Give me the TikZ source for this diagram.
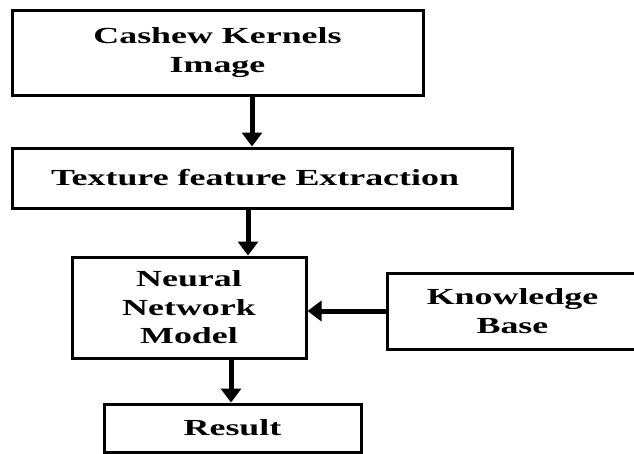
\documentclass[tikz,border=0pt]{standalone}
\usepackage{fontspec}
\setmainfont{Liberation Serif}[FakeStretch=1.56]
\usetikzlibrary{arrows.meta}
\begin{document}
\begin{tikzpicture}[x=1pt,y=-1pt,
  box/.style={draw=black, line width=3pt, fill=white, rectangle, inner sep=0pt,
    align=center, font=\fontsize{23}{28.5}\selectfont\bfseries},
  arr/.style={line width=5pt, -{Triangle[length=14pt,width=20pt]}}]
\useasboundingbox[fill=white] (0,0) rectangle (634,453);
\node[box, minimum width=411pt, minimum height=85pt] (b1) at (217.5,52.5) {Cashew Kernels\\Image};
\node[box, minimum width=500pt, minimum height=60pt] (b2) at (262,178) {\hspace*{-14pt}Texture feature Extraction};
\node[box, minimum width=234pt, minimum height=101pt] (nn) at (189,307.5) {Neural\\Network\\Model};
\node[box, minimum width=251pt, minimum height=76pt] (kb) at (512.5,311) {Knowledge\\Base};
\node[box, minimum width=257pt, minimum height=48pt] (res) at (232.5,428) {Result};
\coordinate (x1) at (252,0);
\coordinate (x2) at (248,0);
\coordinate (x4) at (231,0);
\coordinate (y3) at (0,311);
\draw[arr] (b1.south -| x1) -- (b2.north -| x1);
\draw[arr] (b2.south -| x2) -- (nn.north -| x2);
\draw[arr] (kb.west |- y3) -- (nn.east |- y3);
\draw[arr] (nn.south -| x4) -- (res.north -| x4);
\end{tikzpicture}
\end{document}
